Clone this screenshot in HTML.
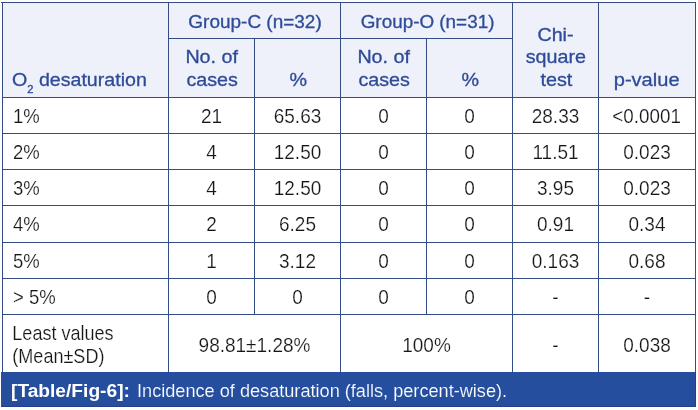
<!DOCTYPE html>
<html lang="en"><head><meta charset="utf-8"><title>Table/Fig-6</title>
<style>
html,body{margin:0;padding:0;background:#fff;}
body{width:698px;height:410px;position:relative;overflow:hidden;font-family:"Liberation Sans",sans-serif;}
.hbg{position:absolute;left:2px;top:2px;width:694px;height:95px;background:#eef0fa;}
.v,.h{position:absolute;background:#344c84;}
.v{width:1px;}
.h{height:1px;}
.t{position:absolute;white-space:nowrap;text-align:center;font-size:18.5px;line-height:22px;color:#161616;-webkit-text-stroke:0.2px #fff;}
.t span{display:inline-block;transform-origin:50% 80%;}
.hd{color:#2e4b98;-webkit-text-stroke:0.3px #2e4b98;}
.b{font-size:19px;}
.l{text-align:left;}
.l span{transform-origin:0 80%;}
.cap{position:absolute;left:1px;top:372px;width:695px;height:35px;background:#254e9f;box-sizing:border-box;border-bottom:1px solid #223f88;border-right:1px solid #233f80;}
.cap span{position:absolute;top:8px;font-size:18px;line-height:22px;color:#fff;white-space:nowrap;display:inline-block;transform-origin:0 50%;}
.cap b{font-weight:bold;}
sub{font-size:10.5px;vertical-align:baseline;position:relative;top:7px;line-height:0;}
</style></head>
<body>
<div class="hbg"></div>
<div class="h" style="left:1px;top:2px;width:695px"></div>
<div class="h" style="left:168px;top:38px;width:345px"></div>
<div class="h" style="left:2px;top:97px;width:694px"></div>
<div class="h" style="left:2px;top:133px;width:694px"></div>
<div class="h" style="left:2px;top:169px;width:694px"></div>
<div class="h" style="left:2px;top:205px;width:694px"></div>
<div class="h" style="left:2px;top:242px;width:694px"></div>
<div class="h" style="left:2px;top:278px;width:694px"></div>
<div class="h" style="left:2px;top:314px;width:694px"></div>
<div class="v" style="left:2px;top:2px;height:370px"></div>
<div class="v" style="left:695px;top:2px;height:370px"></div>
<div class="v" style="left:168px;top:2px;height:370px"></div>
<div class="v" style="left:340px;top:2px;height:370px"></div>
<div class="v" style="left:512px;top:2px;height:370px"></div>
<div class="v" style="left:598px;top:2px;height:370px"></div>
<div class="v" style="left:254px;top:38px;height:276px"></div>
<div class="v" style="left:426px;top:38px;height:276px"></div>
<div class="t hd" style="left:169px;width:173px;top:11px"><span style="transform:scale(1.025,1.0)">Group-C (n=32)</span></div>
<div class="t hd" style="left:341px;width:173px;top:11px"><span style="transform:scale(1.02,1.0)">Group-O (n=31)</span></div>
<div class="t hd" style="left:168px;width:87px;top:46px"><span style="transform:scale(1.065,1.0)">No. of</span></div>
<div class="t hd" style="left:169px;width:87px;top:68px"><span style="transform:translate(0px,0.5px) scale(1.065,1.0)">cases</span></div>
<div class="t hd" style="left:255px;width:87px;top:68px"><span style="transform:translate(0px,0.5px) scale(1.065,1.0)">%</span></div>
<div class="t hd" style="left:340px;width:87px;top:46px"><span style="transform:scale(1.065,1.0)">No. of</span></div>
<div class="t hd" style="left:341px;width:87px;top:68px"><span style="transform:translate(0px,0.5px) scale(1.065,1.0)">cases</span></div>
<div class="t hd" style="left:427px;width:87px;top:68px"><span style="transform:translate(0px,0.5px) scale(1.065,1.0)">%</span></div>
<div class="t hd" style="left:511px;width:87px;top:23px"><span style="transform:translate(0.5px,0.5px) scale(1.065,1.0)">Chi-</span></div>
<div class="t hd" style="left:512px;width:87px;top:46px"><span style="transform:translate(0.5px,0px) scale(1.065,1.0)">square</span></div>
<div class="t hd" style="left:512px;width:87px;top:68px"><span style="transform:translate(0.5px,0.5px) scale(1.07,1.0)">test</span></div>
<div class="t hd" style="left:597px;width:98px;top:68px"><span style="transform:translate(0.3px,0.5px) scale(1.085,1.0)">p-value</span></div>
<div class="t l hd" style="left:12px;top:69px"><span style="transform:scale(1.06,1.0)">O<sub>2</sub> desaturation</span></div>
<div class="t l b" style="left:13px;top:106px"><span style="transform:scale(0.975,1.045)">1%</span></div>
<div class="t b" style="left:168px;width:87px;top:106px"><span style="transform:scale(1.0,1.045)">21</span></div>
<div class="t b" style="left:254px;width:87px;top:106px"><span style="transform:scale(1.0,1.045)">65.63</span></div>
<div class="t b" style="left:340px;width:87px;top:106px"><span style="transform:scale(1.0,1.045)">0</span></div>
<div class="t b" style="left:426px;width:87px;top:106px"><span style="transform:scale(1.0,1.045)">0</span></div>
<div class="t b" style="left:512px;width:87px;top:106px"><span style="transform:scale(1.0,1.045)">28.33</span></div>
<div class="t b" style="left:598px;width:98px;top:106px"><span style="transform:scale(0.99,1.045)">&lt;0.0001</span></div>
<div class="t l b" style="left:13px;top:142px"><span style="transform:scale(0.975,1.045)">2%</span></div>
<div class="t b" style="left:168px;width:87px;top:142px"><span style="transform:scale(1.0,1.045)">4</span></div>
<div class="t b" style="left:254px;width:87px;top:142px"><span style="transform:scale(1.0,1.045)">12.50</span></div>
<div class="t b" style="left:340px;width:87px;top:142px"><span style="transform:scale(1.0,1.045)">0</span></div>
<div class="t b" style="left:426px;width:87px;top:142px"><span style="transform:scale(1.0,1.045)">0</span></div>
<div class="t b" style="left:512px;width:87px;top:142px"><span style="transform:scale(1.0,1.045)">11.51</span></div>
<div class="t b" style="left:598px;width:98px;top:142px"><span style="transform:scale(1.0,1.045)">0.023</span></div>
<div class="t l b" style="left:13px;top:178px"><span style="transform:scale(0.975,1.045)">3%</span></div>
<div class="t b" style="left:168px;width:87px;top:178px"><span style="transform:scale(1.0,1.045)">4</span></div>
<div class="t b" style="left:254px;width:87px;top:178px"><span style="transform:scale(1.0,1.045)">12.50</span></div>
<div class="t b" style="left:340px;width:87px;top:178px"><span style="transform:scale(1.0,1.045)">0</span></div>
<div class="t b" style="left:426px;width:87px;top:178px"><span style="transform:scale(1.0,1.045)">0</span></div>
<div class="t b" style="left:512px;width:87px;top:178px"><span style="transform:scale(1.0,1.045)">3.95</span></div>
<div class="t b" style="left:598px;width:98px;top:178px"><span style="transform:scale(1.0,1.045)">0.023</span></div>
<div class="t l b" style="left:13px;top:214px"><span style="transform:scale(0.975,1.045)">4%</span></div>
<div class="t b" style="left:168px;width:87px;top:214px"><span style="transform:scale(1.0,1.045)">2</span></div>
<div class="t b" style="left:254px;width:87px;top:214px"><span style="transform:scale(1.0,1.045)">6.25</span></div>
<div class="t b" style="left:340px;width:87px;top:214px"><span style="transform:scale(1.0,1.045)">0</span></div>
<div class="t b" style="left:426px;width:87px;top:214px"><span style="transform:scale(1.0,1.045)">0</span></div>
<div class="t b" style="left:512px;width:87px;top:214px"><span style="transform:scale(1.0,1.045)">0.91</span></div>
<div class="t b" style="left:598px;width:98px;top:214px"><span style="transform:scale(1.0,1.045)">0.34</span></div>
<div class="t l b" style="left:13px;top:251px"><span style="transform:scale(0.975,1.045)">5%</span></div>
<div class="t b" style="left:168px;width:87px;top:251px"><span style="transform:scale(1.0,1.045)">1</span></div>
<div class="t b" style="left:254px;width:87px;top:251px"><span style="transform:scale(1.0,1.045)">3.12</span></div>
<div class="t b" style="left:340px;width:87px;top:251px"><span style="transform:scale(1.0,1.045)">0</span></div>
<div class="t b" style="left:426px;width:87px;top:251px"><span style="transform:scale(1.0,1.045)">0</span></div>
<div class="t b" style="left:512px;width:87px;top:251px"><span style="transform:scale(1.0,1.045)">0.163</span></div>
<div class="t b" style="left:598px;width:98px;top:251px"><span style="transform:scale(1.0,1.045)">0.68</span></div>
<div class="t l b" style="left:13px;top:287px"><span style="transform:scale(0.975,1.045)">&gt; 5%</span></div>
<div class="t b" style="left:168px;width:87px;top:287px"><span style="transform:scale(1.0,1.045)">0</span></div>
<div class="t b" style="left:254px;width:87px;top:287px"><span style="transform:scale(1.0,1.045)">0</span></div>
<div class="t b" style="left:340px;width:87px;top:287px"><span style="transform:scale(1.0,1.045)">0</span></div>
<div class="t b" style="left:426px;width:87px;top:287px"><span style="transform:scale(1.0,1.045)">0</span></div>
<div class="t b" style="left:512px;width:87px;top:287px"><span style="transform:scale(1.0,1.045)">-</span></div>
<div class="t b" style="left:598px;width:98px;top:287px"><span style="transform:scale(1.0,1.045)">-</span></div>
<div class="t l b" style="left:12px;top:323px"><span style="transform:translate(0.3px,0px) scale(0.95,1.045)">Least values</span></div>
<div class="t l b" style="left:12px;top:345px"><span style="transform:translate(0.3px,0.6px) scale(0.95,1.045)">(Mean±SD)</span></div>
<div class="t b" style="left:168px;width:173px;top:335px"><span style="transform:scale(1.0,1.045)">98.81±1.28%</span></div>
<div class="t b" style="left:340px;width:173px;top:335px"><span style="transform:scale(1.0,1.045)">100%</span></div>
<div class="t b" style="left:512px;width:87px;top:335px"><span style="transform:scale(1.0,1.045)">-</span></div>
<div class="t b" style="left:598px;width:98px;top:335px"><span style="transform:scale(1.0,1.045)">0.038</span></div>
<div class="cap"><span style="left:10px;transform:scaleX(1.065)"><b>[Table/Fig-6]:</b></span><span style="left:136px;transform:scaleX(1.008);-webkit-text-stroke:0.15px #254e9f">Incidence of desaturation (falls, percent-wise).</span></div>
</body></html>
